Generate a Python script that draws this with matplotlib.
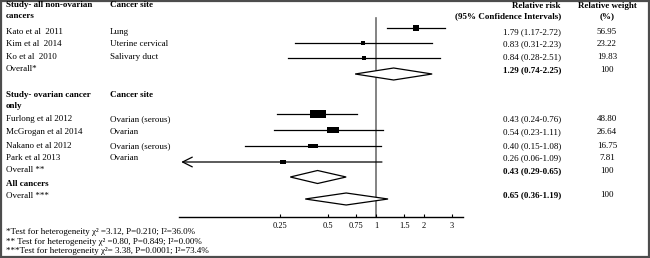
import numpy as np
import matplotlib
matplotlib.use("Agg")
import matplotlib.pyplot as plt
from matplotlib.patches import Polygon, Rectangle

plt.rcParams['font.family'] = ['Liberation Serif', 'DejaVu Serif']

# data
studies_non = ["Kato et al  2011", "Kim et al  2014", "Ko et al  2010"]
sites_non = ["Lung", "Uterine cervical", "Salivary duct"]
rr_non = [1.79, 0.83, 0.84]
lo_non = [1.17, 0.31, 0.28]
hi_non = [2.72, 2.23, 2.51]
wt_non = [56.95, 23.22, 19.83]
overall_non = [1.29, 0.74, 2.25]

studies_ov = ["Furlong et al 2012", "McGrogan et al 2014", "Nakano et al 2012", "Park et al 2013"]
sites_ov = ["Ovarian (serous)", "Ovarian", "Ovarian (serous)", "Ovarian"]
rr_ov = [0.43, 0.54, 0.40, 0.26]
lo_ov = [0.24, 0.23, 0.15, 0.06]
hi_ov = [0.76, 1.11, 1.08, 1.09]
wt_ov = [48.80, 26.64, 16.75, 7.81]
overall_ov = [0.43, 0.29, 0.65]

overall_all = [0.65, 0.36, 1.19]

xticks = [0.25, 0.5, 0.75, 1, 1.5, 2, 3]
xticklabels = ["0.25", "0.5", "0.75", "1", "1.5", "2", "3"]

footnotes = [
    "*Test for heterogeneity \u03c7\u00b2 =3.12, P=0.210; I\u00b2=36.0%",
    "** Test for heterogeneity \u03c7\u00b2 =0.80, P=0.849; I\u00b2=0.00%",
    "***Test for heterogeneity \u03c7\u00b2= 3.38, P=0.0001; I\u00b2=73.4%",
]

# layout (pixel rows of the 650x258 picture)
W, H = 650, 258
mark_y_non = [28, 43, 58]
dia_y_non = 74
mark_y_ov = [114, 130, 146, 162]
dia_y_ov = 177
dia_y_all = 199
txt_y_non = [32, 44, 57]
txt_y_ov = [119, 132, 146, 158]
axis_y = 217
x_left, x_right = 179, 463
FS = 6.5

fig = plt.figure(figsize=(6.5, 2.58), dpi=100)


def ftext(x, y, s, **kw):
    kw.setdefault('fontsize', FS)
    kw.setdefault('va', 'center')
    fig.text(x / W, 1 - y / H, s, **kw)


ax = fig.add_axes([x_left / W, (H - axis_y) / H, (x_right - x_left) / W, axis_y / H])
ax.set_xscale('log')
ax.set_xlim(2 ** ((x_left - 376) / 48), 2 ** ((x_right - 376) / 48))
ax.set_ylim(axis_y, 0)
ax.patch.set_visible(False)
for s in ['top', 'right', 'left']:
    ax.spines[s].set_visible(False)
ax.spines['bottom'].set_linewidth(1.0)
ax.set_yticks([])
ax.set_xticks(xticks)
ax.set_xticklabels(xticklabels)
ax.minorticks_off()
ax.tick_params(axis='x', direction='in', length=2.5, width=0.8, pad=3.5, labelsize=6)

ax.plot([1, 1], [18, axis_y], color='#6e6e6e', lw=1.2, zorder=1)

# non-ovarian studies: square markers
for y, r, lo, hi, w in zip(mark_y_non, rr_non, lo_non, hi_non, wt_non):
    ax.plot([lo, hi], [y, y], color='black', lw=0.9, zorder=2)
    ax.plot(r, y, marker='s', color='black', ms=0.8 * np.sqrt(w) * 0.72, mew=0, zorder=3)

# ovarian studies: wider rectangle markers
rect = [(-1, -0.5), (1, -0.5), (1, 0.5), (-1, 0.5), (-1, -0.5)]
for y, r, lo, hi, w in zip(mark_y_ov, rr_ov, lo_ov, hi_ov, wt_ov):
    if lo <= 0.06:
        ax.annotate('', xy=(lo, y), xytext=(hi, y),
                    arrowprops=dict(arrowstyle='->,head_length=0.7,head_width=0.35',
                                    color='black', lw=0.9, shrinkA=0, shrinkB=0),
                    annotation_clip=False, zorder=2)
    else:
        ax.plot([lo, hi], [y, y], color='black', lw=0.9, zorder=2)
    ax.plot(r, y, marker=rect, color='black', ms=2.3 * np.sqrt(w) * 0.72, mew=0, zorder=3)


def diamond(vals, y, h=6):
    est, lo, hi = vals
    ax.add_patch(Polygon([(lo, y), (est, y - h), (hi, y), (est, y + h)], closed=True,
                         facecolor='white', edgecolor='black', lw=0.9, zorder=4))


diamond(overall_non, dia_y_non)
diamond(overall_ov, dia_y_ov, 6.5)
diamond(overall_all, dia_y_all)

# text columns
x_study, x_site, x_rr, x_wt = 6, 110, 561, 607
ftext(x_study, 5, "Study- all non-ovarian", weight='bold')
ftext(x_study, 16, "cancers", weight='bold')
ftext(x_site, 5, "Cancer site", weight='bold')
ftext(x_rr, 6, "Relative risk", weight='bold', ha='right')
ftext(x_rr, 16, "(95% Confidence Intervals)", weight='bold', ha='right')
ftext(x_wt, 6, "Relative weight", weight='bold', ha='center')
ftext(x_wt, 16, "(%)", weight='bold', ha='center')

for y, st, si, r, lo, hi, w in zip(txt_y_non, studies_non, sites_non, rr_non, lo_non, hi_non, wt_non):
    ftext(x_study, y, st)
    ftext(x_site, y, si)
    ftext(x_rr, y, f"{r:.2f} ({lo:.2f}-{hi:.2f})", ha='right')
    ftext(x_wt, y, f"{w:.2f}", ha='center')
ftext(x_study, 69, "Overall*")
ftext(x_rr, 70, "{:.2f} ({:.2f}-{:.2f})".format(*overall_non), ha='right', weight='bold')
ftext(x_wt, 70, "100", ha='center')

ftext(x_study, 95, "Study- ovarian cancer", weight='bold')
ftext(x_study, 106, "only", weight='bold')
ftext(x_site, 95, "Cancer site", weight='bold')
for y, st, si, r, lo, hi, w in zip(txt_y_ov, studies_ov, sites_ov, rr_ov, lo_ov, hi_ov, wt_ov):
    ftext(x_study, y, st)
    ftext(x_site, y, si)
    ftext(x_rr, y, f"{r:.2f} ({lo:.2f}-{hi:.2f})", ha='right')
    ftext(x_wt, y, f"{w:.2f}", ha='center')
ftext(x_study, 170, "Overall **")
ftext(x_rr, 171, "{:.2f} ({:.2f}-{:.2f})".format(*overall_ov), ha='right', weight='bold')
ftext(x_wt, 171, "100", ha='center')

ftext(x_study, 184, "All cancers", weight='bold')
ftext(x_study, 196, "Overall ***")
ftext(x_rr, 195, "{:.2f} ({:.2f}-{:.2f})".format(*overall_all), ha='right', weight='bold')
ftext(x_wt, 195, "100", ha='center')

for y, s in zip([232, 242, 251], footnotes):
    ftext(x_study, y, s)

# frame around the whole picture
fig.patches.append(Rectangle((0.0015, 0.003), 0.997, 0.994, transform=fig.transFigure,
                             fill=False, edgecolor='#4d4d4d', lw=1.6))

fig.savefig("out.png", dpi=100)
